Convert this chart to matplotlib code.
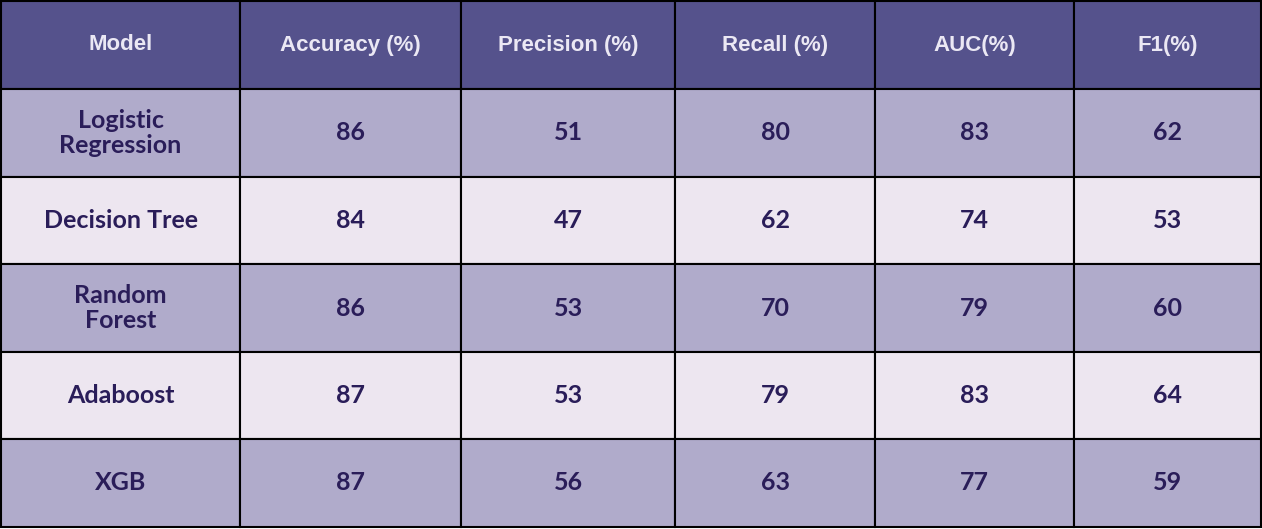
import matplotlib.pyplot as plt
from matplotlib.patches import Rectangle

columns = ["Model", "Accuracy (%)", "Precision (%)", "Recall (%)", "AUC(%)", "F1(%)"]
models = ["Logistic\nRegression", "Decision Tree", "Random\nForest", "Adaboost", "XGB"]
accuracy = [86, 84, 86, 87, 87]
precision = [51, 47, 53, 53, 56]
recall = [80, 62, 70, 79, 63]
auc = [83, 74, 79, 83, 77]
f1 = [62, 53, 60, 64, 59]

col_widths = [239, 221, 214, 200, 199, 187]
row_heights = [88, 88, 87, 88, 87, 88]

header_bg = "#55528c"
odd_bg = "#b0abcb"
even_bg = "#ede6f0"
text_dark = "#2a1d59"

fig = plt.figure(figsize=(12.62, 5.29), dpi=100)
ax = fig.add_axes([0, 0, 1, 1])
ax.set_xlim(0, 1262)
ax.set_ylim(529, 0)
ax.axis("off")

rows = [columns] + [[m, a, p, r, u, f] for m, a, p, r, u, f in
                    zip(models, accuracy, precision, recall, auc, f1)]

y = 1
for i, row in enumerate(rows):
    h = row_heights[i]
    x = 1
    for j, val in enumerate(row):
        w = col_widths[j]
        if i == 0:
            bg = header_bg
        elif i % 2 == 1:
            bg = odd_bg
        else:
            bg = even_bg
        ax.add_patch(Rectangle((x, y), w, h, facecolor=bg, edgecolor="black", lw=1.5))
        if i == 0:
            ax.text(x + w / 2, y + h / 2, val, ha="center", va="center",
                    fontsize=16, fontweight="bold", color="#ebe8f4",
                    family="Liberation Sans")
        else:
            ax.text(x + w / 2, y + h / 2, str(val), ha="center", va="center",
                    fontsize=18, fontweight="bold", color=text_dark,
                    family="Lato", linespacing=1.1)
        x += w
    y += h

fig.savefig("out.png", dpi=100)
